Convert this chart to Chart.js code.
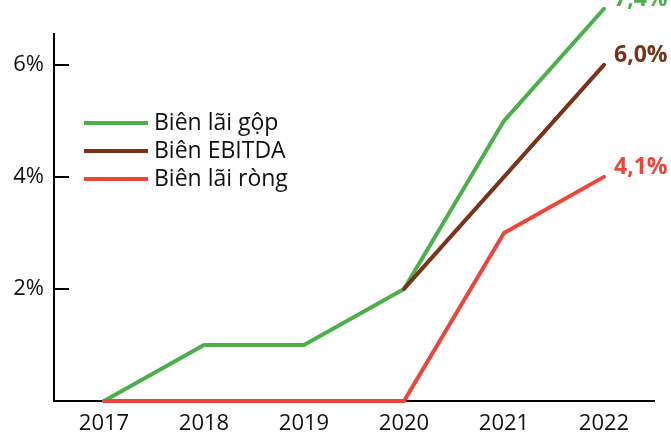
<!DOCTYPE html>
<html>
<head>
<meta charset="utf-8">
<script src="https://cdn.jsdelivr.net/npm/chart.js@4/dist/chart.umd.min.js"></script>
<style>
  html, body { margin: 0; padding: 0; background: #fff; }
  #wrap { width: 671px; height: 439px; }
</style>
</head>
<body>
<div id="wrap"><canvas id="marginChart"></canvas></div>
<script>
const years = ["2017", "2018", "2019", "2020", "2021", "2022"];
const grossMargin = [0, 1, 1, 2, 5, 7.0];
const ebitdaMargin = [null, null, null, 2, 4, 6.0];
const netMargin = [0, 0, 0, 0, 3, 4.0];
const endLabels = ["7,4%", "6,0%", "4,1%"];
const seriesNames = ["Biên lãi gộp", "Biên EBITDA", "Biên lãi ròng"];
const yTicks = [2, 4, 6];

const colors = ["#4cb04a", "#7a3218", "#f04438"];
const FONT = "'Open Sans', 'Noto Sans', sans-serif";

const ctx = document.getElementById("marginChart");

// short inward tick marks, end labels and the legend
const extras = {
  id: "extras",
  afterDraw(chart) {
    const c = chart.ctx;
    const area = chart.chartArea;
    const y = chart.scales.y;
    c.save();
    c.strokeStyle = "#000";
    c.lineWidth = 2;
    yTicks.forEach((v) => {
      const py = Math.round(y.getPixelForValue(v));
      c.beginPath();
      c.moveTo(area.left, py);
      c.lineTo(area.left + 15, py);
      c.stroke();
    });

    // end-of-line labels
    c.font = "bold 23px " + FONT;
    c.textBaseline = "middle";
    c.textAlign = "left";
    [0, 1, 2].forEach((i) => {
      const meta = chart.getDatasetMeta(i);
      const pt = meta.data[meta.data.length - 1];
      c.fillStyle = colors[i];
      c.fillText(endLabels[i], pt.x + 10, pt.y - 9);
    });

    // legend
    c.font = "23px " + FONT;
    c.lineWidth = 4;
    seriesNames.forEach((name, i) => {
      const ly = 123 + i * 28;
      c.strokeStyle = colors[i];
      c.beginPath();
      c.moveTo(84, ly);
      c.lineTo(148, ly);
      c.stroke();
      c.fillStyle = "#111";
      c.fillText(name, 154, ly);
    });
    c.restore();
  },
};

new Chart(ctx, {
  type: "line",
  data: {
    labels: years,
    datasets: [
      { label: seriesNames[0], data: grossMargin, borderColor: colors[0], order: 3 },
      { label: seriesNames[1], data: ebitdaMargin, borderColor: colors[1], order: 2 },
      { label: seriesNames[2], data: netMargin, borderColor: colors[2], order: 1 },
    ],
  },
  options: {
    responsive: true,
    maintainAspectRatio: false,
    animation: false,
    layout: { padding: { left: 0, right: 17, top: 34, bottom: 0 } },
    elements: {
      line: { borderWidth: 4, tension: 0, borderCapStyle: "round", borderJoinStyle: "round" },
      point: { radius: 0, hoverRadius: 0 },
    },
    datasets: { line: { clip: false } },
    plugins: { legend: { display: false }, tooltip: { enabled: false } },
    scales: {
      x: {
        offset: true,
        grid: { display: false, drawTicks: false },
        border: { color: "#000", width: 2 },
        ticks: { color: "#111", font: { family: FONT, size: 22 }, padding: 10, maxRotation: 0 },
        afterFit(scale) { scale.height = 38; },
      },
      y: {
        min: 0,
        max: 6.55,
        grid: { display: false, drawTicks: false },
        border: { color: "#000", width: 2 },
        afterBuildTicks(scale) {
          scale.ticks = yTicks.map((v) => ({ value: v }));
        },
        ticks: {
          color: "#111",
          font: { family: FONT, size: 22 },
          padding: 10,
          callback: (v) => v + "%",
        },
        afterFit(scale) { scale.width = 54; },
      },
    },
  },
  plugins: [extras],
});
</script>
</body>
</html>
